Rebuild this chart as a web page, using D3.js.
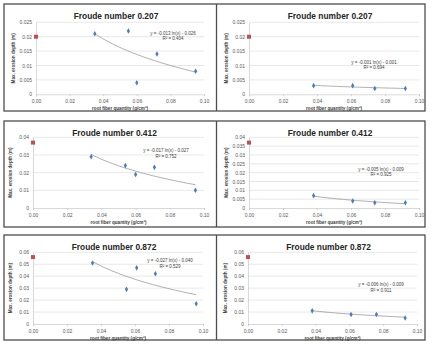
<!DOCTYPE html>
<html>
<head>
<meta charset="utf-8">
<script src="https://cdn.jsdelivr.net/npm/d3@7"></script>
<style>
  body { margin: 0; background: #fff; }
  text { font-family: "Liberation Sans", Arial, sans-serif; }
</style>
</head>
<body>
<div id="chart"></div>
<script>
// chart data
const titles = ["Froude number 0.207", "Froude number 0.412", "Froude number 0.872"];
const controlDepth = [0.02, 0.037, 0.056];          // red square at x = 0
const yMax = [0.025, 0.04, 0.06];
const leftStep = [0.005, 0.01, 0.01];
const rightStep = [0.005, 0.005, 0.01];
const xTicks = [0, 0.02, 0.04, 0.06, 0.08, 0.10];

const leftX = [[0.035, 0.055, 0.060, 0.072, 0.095],
               [0.034, 0.054, 0.060, 0.071, 0.095],
               [0.035, 0.055, 0.061, 0.072, 0.096]];
const leftY = [[0.021, 0.022, 0.004, 0.014, 0.008],
               [0.029, 0.024, 0.019, 0.023, 0.010],
               [0.051, 0.029, 0.047, 0.042, 0.017]];
const rightX = [[0.038, 0.061, 0.074, 0.092],
                [0.038, 0.061, 0.074, 0.092],
                [0.038, 0.061, 0.076, 0.093]];
const rightY = [[0.003, 0.003, 0.002, 0.002],
                [0.007, 0.004, 0.003, 0.003],
                [0.011, 0.008, 0.008, 0.005]];

const leftEq = ["y = -0.013 ln(x) - 0.026", "y = -0.017 ln(x) - 0.027", "y = -0.027 ln(x) - 0.040"];
const leftR2 = ["R² = 0.404", "R² = 0.752", "R² = 0.529"];
const rightEq = ["y = -0.001 ln(x) - 0.001", "y = -0.005 ln(x) - 0.009", "y = -0.006 ln(x) - 0.009"];
const rightR2 = ["R² = 0.694", "R² = 0.925", "R² = 0.911"];

// layout
const width = 433, height = 353;
const rowTop = [4, 121, 235], rowBottom = [111, 227, 340];
const plotTop = [22.3, 137.3, 252.3], plotBottom = [94.3, 208, 324];
const leftPlot = [[36, 204], [33, 204], [33, 203]];
const rightPlot = [[249, 419], [249, 419], [248, 417]];
const eqPosLeft = [[173, 33], [166, 150.7], [170, 260.7]];
const eqPosRight = [[374, 62], [381, 169], [381, 284.3]];
const boxLeft = 4, boxRight = 425, divider = 216.5;

const svg = d3.select("#chart").append("svg")
    .attr("width", width)
    .attr("height", height);

const fmt = d => String(+d.toFixed(3));

// excel-style log trendline from the points
function logFit(xs, ys) {
    const lx = xs.map(Math.log);
    const mx = d3.mean(lx), my = d3.mean(ys);
    let sxy = 0, sxx = 0;
    for (let i = 0; i < xs.length; i++) {
        sxy += (lx[i] - mx) * (ys[i] - my);
        sxx += (lx[i] - mx) * (lx[i] - mx);
    }
    const a = sxy / sxx;
    return x => a * Math.log(x) + (my - a * mx);
}

function panel(row, xr, xs, ys, step, eq, r2, eqPos) {
    const g = svg.append("g");
    const x = d3.scaleLinear().domain([0, 0.10]).range(xr);
    const y = d3.scaleLinear().domain([0, yMax[row]]).range([plotBottom[row], plotTop[row]]);
    const yTicks = d3.range(0, yMax[row] + step / 2, step);

    // gridlines
    g.selectAll(".grid").data(yTicks.slice(1)).join("line")
        .attr("x1", xr[0]).attr("x2", xr[1])
        .attr("y1", d => y(d)).attr("y2", d => y(d))
        .attr("stroke", "#d9d9d9").attr("stroke-width", 0.6);

    // y axis
    const ya = g.append("g")
        .attr("transform", `translate(${xr[0]},0)`)
        .call(d3.axisLeft(y).tickValues(yTicks).tickFormat(fmt).tickSize(0).tickPadding(4));
    ya.select(".domain").attr("stroke", "#bfbfbf").attr("stroke-width", 0.6);
    ya.selectAll("text").attr("font-size", 5).attr("fill", "#595959").style("font-family", "Liberation Sans");

    // x axis
    const xa = g.append("g")
        .attr("transform", `translate(0,${plotBottom[row]})`)
        .call(d3.axisBottom(x).tickValues(xTicks).tickFormat(d3.format(".2f")).tickSize(2).tickPadding(3));
    xa.select(".domain").attr("stroke", "#bfbfbf").attr("stroke-width", 0.6);
    xa.selectAll("line").attr("stroke", "#bfbfbf").attr("stroke-width", 0.6);
    xa.selectAll("text").attr("font-size", 5).attr("fill", "#595959").style("font-family", "Liberation Sans");

    // titles
    const cx = (xr[0] + xr[1]) / 2;
    g.append("text")
        .attr("x", cx - 4).attr("y", rowTop[row] + 14.5)
        .attr("text-anchor", "middle")
        .attr("font-size", 8.4).attr("font-weight", "bold").attr("fill", "#262626")
        .text(titles[row]);
    g.append("text")
        .attr("x", cx).attr("y", plotBottom[row] + 15.5)
        .attr("text-anchor", "middle")
        .attr("font-size", 4.6).attr("font-weight", "bold").attr("fill", "#404040")
        .text("root fiber quantity (g/cm³)");
    const cy = (plotTop[row] + plotBottom[row]) / 2;
    g.append("text")
        .attr("transform", `translate(${xr[0] - 21.5},${cy}) rotate(-90)`)
        .attr("text-anchor", "middle")
        .attr("font-size", 4.6).attr("font-weight", "bold").attr("fill", "#404040")
        .text("Max. erosion depth (m)");

    // trendline
    const f = logFit(xs, ys);
    const lo = d3.min(xs), hi = d3.max(xs);
    const pts = d3.range(0, 41).map(i => lo + (hi - lo) * i / 40);
    g.append("path")
        .datum(pts)
        .attr("d", d3.line().x(d => x(d)).y(d => y(f(d))))
        .attr("fill", "none").attr("stroke", "#8c8c8c").attr("stroke-width", 0.7);

    // points
    g.selectAll(".pt").data(xs.map((d, i) => [d, ys[i]])).join("path")
        .attr("transform", d => `translate(${x(d[0])},${y(d[1])})`)
        .attr("d", d3.symbol(d3.symbolDiamond, 9))
        .attr("fill", "#4a7ebb");
    g.append("path")
        .attr("transform", `translate(${x(0)},${y(controlDepth[row])})`)
        .attr("d", d3.symbol(d3.symbolSquare, 16))
        .attr("fill", "#c0504d");

    // equation
    g.append("text")
        .attr("x", eqPos[0]).attr("y", eqPos[1] + 1.6)
        .attr("text-anchor", "middle").attr("font-size", 4.5).attr("fill", "#404040")
        .text(eq);
    g.append("text")
        .attr("x", eqPos[0]).attr("y", eqPos[1] + 7.4)
        .attr("text-anchor", "middle").attr("font-size", 4.5).attr("fill", "#404040")
        .text(r2);
}

for (let r = 0; r < 3; r++) {
    // frame for the row
    svg.append("rect")
        .attr("x", boxLeft).attr("y", rowTop[r])
        .attr("width", boxRight - boxLeft).attr("height", rowBottom[r] - rowTop[r])
        .attr("fill", "none").attr("stroke", "#4d4d4d").attr("stroke-width", 1.3);
    svg.append("line")
        .attr("x1", divider).attr("x2", divider)
        .attr("y1", rowTop[r]).attr("y2", rowBottom[r])
        .attr("stroke", "#4d4d4d").attr("stroke-width", 1.3);

    panel(r, leftPlot[r], leftX[r], leftY[r], leftStep[r], leftEq[r], leftR2[r], eqPosLeft[r]);
    panel(r, rightPlot[r], rightX[r], rightY[r], rightStep[r], rightEq[r], rightR2[r], eqPosRight[r]);
}
</script>
</body>
</html>
